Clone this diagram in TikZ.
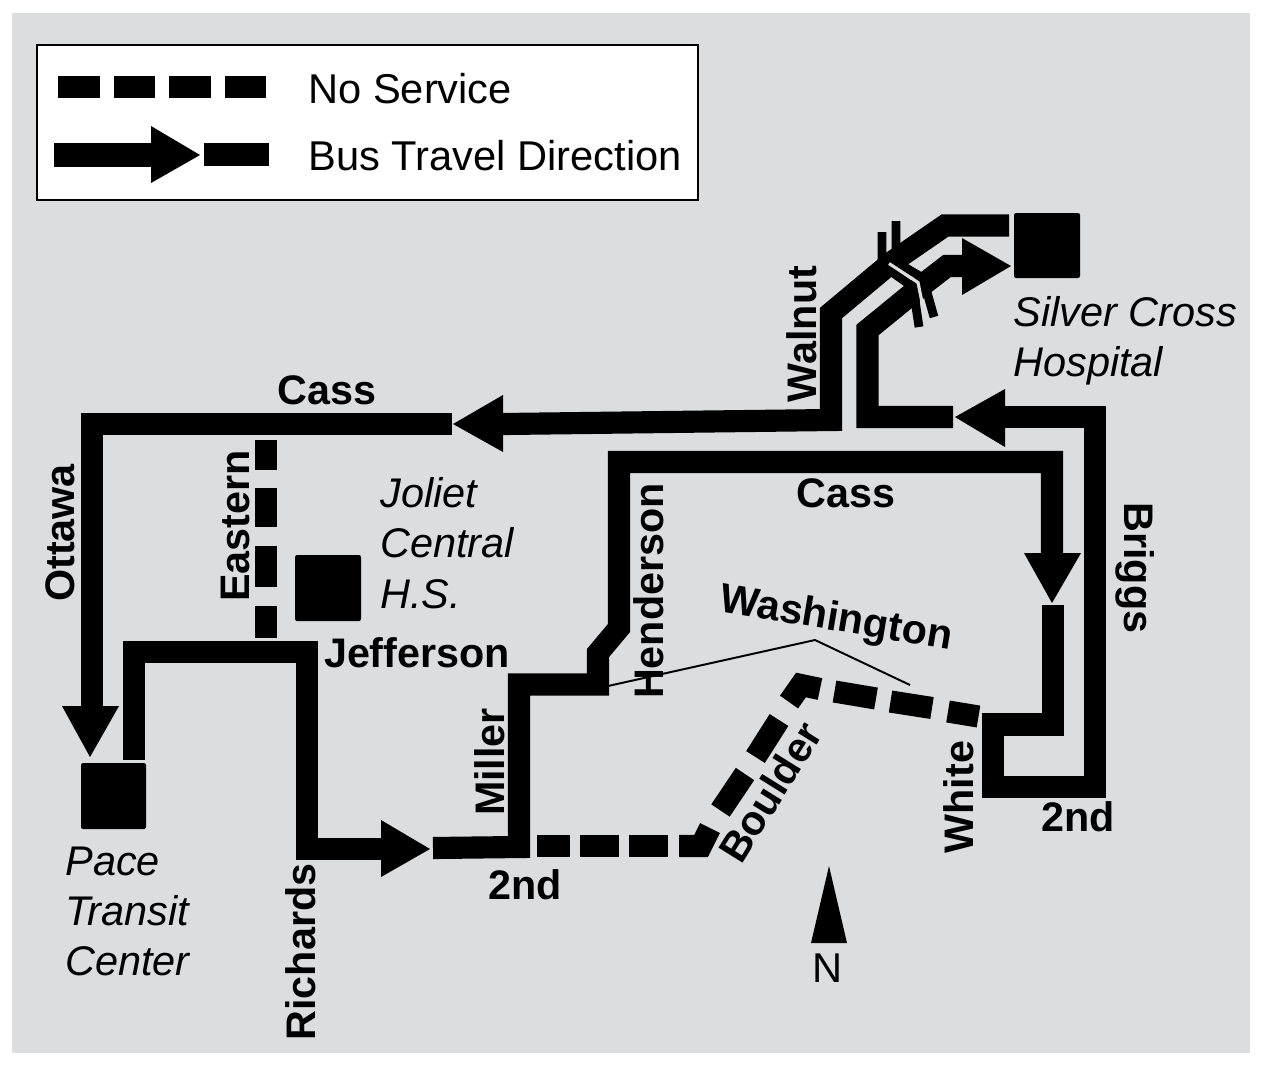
\documentclass[tikz,border=0pt]{standalone}
\usepackage{fontspec}
\setmainfont{Liberation Sans}
\definecolor{mapgray}{HTML}{DCDDDF}
\tikzset{
  road/.style={draw=black,line width=12.6pt,line cap=butt,line join=miter},
  head/.style={fill=black,draw=none},
  stopbox/.style={fill=black,draw=none,rounded corners=1.2pt},
  street/.style={font=\fontsize{23.5}{28}\selectfont\bfseries,inner sep=0pt},
  place/.style={font=\fontsize{23.6}{28}\selectfont\itshape,inner sep=0pt,anchor=base west},
  legendtext/.style={font=\fontsize{23.7}{28}\selectfont,inner sep=0pt,anchor=west},
  bridge/.style={draw=black,line width=5pt,line join=miter},
  bridgegap/.style={draw=mapgray,line width=1.8pt,line join=miter}
}
\begin{document}
\begin{tikzpicture}[x=0.02cm,y=-0.02cm]
\useasboundingbox (0,0) rectangle (1268,1066);
\fill[mapgray] (12,13) rectangle (1250,1053);
% legend
\filldraw[draw=black,fill=white,line width=1.5pt] (37,45) rectangle (698,200);
\foreach \a/\b in {58/100,114/155,169/211,225/266}{\fill (\a,76) rectangle (\b,98);}
\fill (54,143) rectangle (152,167);
\fill[head] (151,126) -- (200,155) -- (151,183) -- cycle;
\fill (204,143) rectangle (269,166);
\node[legendtext] (noservice) at (308,89) {No Service};
\node[legendtext] (busdir) at (308,156) {Bus Travel Direction};
% stops
\fill[stopbox] (81,763) rectangle (146,829);
\fill[stopbox] (295,555) rectangle (361,621);
\fill[stopbox] (1014,213) rectangle (1080,278);
% routes
\draw[road] (1009,225.5) -- (945,225.5) -- (892,262) -- (831,313) -- (831,420) -- (503,424);
\fill[head] (503,395) -- (453,424) -- (503,452) -- cycle;
\draw[road] (452,424) -- (92,424) -- (92,707);
\fill[head] (62,706) -- (90,757) -- (119,706) -- cycle;
\draw[road] (134,760) -- (134,652) -- (307,652) -- (307,849) -- (382,849);
\fill[head] (381,820) -- (430,849) -- (381,877) -- cycle;
\draw[road] (433,848) -- (519,847) -- (519,684.5) -- (598,684.5) -- (598,653) -- (619,628) -- (619,462) -- (1052,462) -- (1052,554);
\fill[head] (1024,553) -- (1052,603) -- (1081,553) -- cycle;
\draw[road] (1053,605) -- (1053,724.5) -- (993,724.5) -- (993,787) -- (1095,787) -- (1095,417) -- (1004,417);
\fill[head] (1005,389) -- (955,417) -- (1005,447) -- cycle;
\draw[road] (953,417) -- (867.5,417) -- (867.5,330) -- (925,283) -- (947,266) -- (963,266);
\fill[head] (962,238) -- (1011,266) -- (962,295) -- cycle;
% no service dashes
\draw[road] (266,440) -- (266,470);
\draw[road] (266,488) -- (266,527);
\draw[road] (266,546) -- (266,587);
\draw[road] (266,606) -- (266,638);
\draw[road] (537,846) -- (570,846);
\draw[road] (580,846) -- (619,846);
\draw[road] (629,846) -- (668,846);
\draw[road] (679,846) -- (701,846) -- (710,828);
\draw[road] (720.5,810.5) -- (745,774);
\draw[road] (755.5,757) -- (779,720);
\draw[road] (789,702) -- (801,685) -- (820,689);
\draw[road] (834.5,691.5) -- (876,698.5);
\draw[road] (890.5,701.5) -- (932,708);
\draw[road] (948,711.5) -- (978.5,716.5);
% bridge
\draw[bridge] (882,232) -- (882,265) -- (913,287) -- (919,327);
\draw[bridge] (896,221) -- (896,262) -- (923,278) -- (934,317);
\draw[bridgegap] (889,263.5) -- (918,282.5) -- (926,322);
% Washington leader
\draw[line width=1.1pt] (608,686) -- (815,640) -- (910,685);
% north arrow
\fill[head] (829,866) -- (811,943) -- (847,943) -- cycle;
\node[legendtext,anchor=center] (north) at (828,968) {N};
% street labels
\node[street] (cassa) at (327,390) {Cass};
\node[street] (cassb) at (846,493) {Cass};
\node[street] (jefferson) at (417,653) {Jefferson};
\node[street] (seconda) at (525,885) {2nd};
\node[street] (secondb) at (1078,817) {2nd};
\node[street,rotate=90] (walnut) at (802,334) {Walnut};
\node[street,rotate=90] (ottawa) at (60,533) {Ottawa};
\node[street,rotate=90] (eastern) at (235,526) {Eastern};
\node[street,rotate=90] (henderson) at (649,591) {Henderson};
\node[street,rotate=90] (miller) at (490,762) {Miller};
\node[street,rotate=90] (white) at (959,797) {White};
\node[street,rotate=90] (richards) at (301,952) {Richards};
\node[street,rotate=-90] (briggs) at (1135,568) {Briggs};
\node[street,rotate=58] (boulder) at (770,792) {Boulder};
\node[street,rotate=-9.5] (washington) at (836,620) {Washington};
% places
\node[place] (silvera) at (1013,326) {Silver Cross};
\node[place] (silverb) at (1013,376) {Hospital};
\node[place] (joa) at (380,507) {Joliet};
\node[place] (job) at (380,557) {Central};
\node[place] (joc) at (380,608) {H.S.};
\node[place] (paa) at (65,875) {Pace};
\node[place] (pab) at (65,925) {Transit};
\node[place] (pac) at (65,975) {Center};
\end{tikzpicture}
\end{document}
